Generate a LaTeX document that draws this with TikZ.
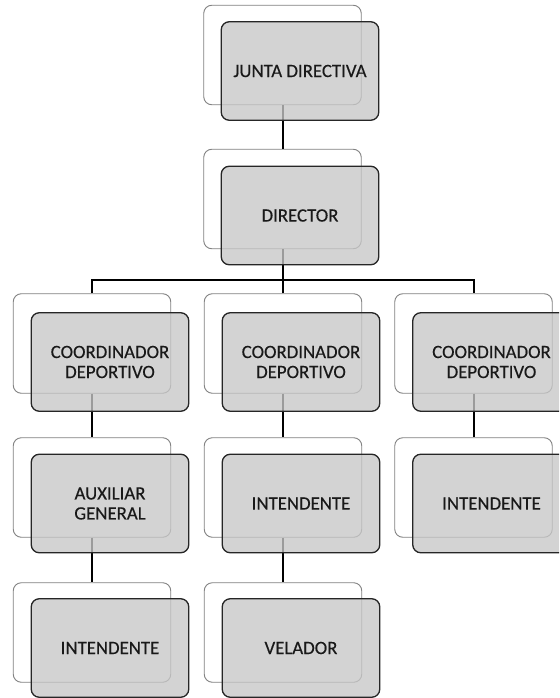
\documentclass[tikz,border=0pt]{standalone}
\usepackage{fontspec}
\setmainfont{Carlito}
\newfontfamily\lblfont[FakeBold=0.35]{Carlito}
\begin{document}
\begin{tikzpicture}[x=1pt,y=-1pt,
  backbox/.style={draw=black!50, line width=0.9pt, rounded corners=8pt, fill=white,
    minimum width=157.5pt, minimum height=99.5pt, inner sep=0pt},
  frontbox/.style={draw=black!85, line width=1.3pt, rounded corners=8pt, fill=black!22,
    fill opacity=0.78, text opacity=1,
    minimum width=157.5pt, minimum height=98.5pt, inner sep=0pt},
  lbl/.style={align=center, font=\lblfont\fontsize{18.8}{20}\selectfont, text=black!90},
  conn/.style={line width=2pt, black}]
\useasboundingbox (0,0) rectangle (559,698);
\clip (0,0) rectangle (559,698);
% back boxes
\node[backbox] (j-b) at (282.5,55) {};
\node[backbox] (d-b) at (282.5,199) {};
\node[backbox] (c1-b) at (92,343.5) {};
\node[backbox] (c2-b) at (283,343.5) {};
\node[backbox] (c3-b) at (473.5,343.5) {};
\node[backbox] (a1-b) at (92,487.5) {};
\node[backbox] (i2-b) at (283,487.5) {};
\node[backbox] (i3-b) at (473.5,487.5) {};
\node[backbox] (i1-b) at (92,632.5) {};
\node[backbox] (v2-b) at (283,632.5) {};
% connectors
\coordinate (bus) at (282.5,280);
\draw[conn] (j-b.south) -- (d-b.north);
\draw[conn] (d-b.south) -- (bus);
\draw[conn] (c1-b.north) |- (bus) -| (c3-b.north);
\draw[conn] (c2-b.north) -- (c2-b.north |- bus);
\draw[conn] (c1-b.south) -- (a1-b.north);
\draw[conn] (a1-b.south) -- (i1-b.north);
\draw[conn] (c2-b.south) -- (i2-b.north);
\draw[conn] (i2-b.south) -- (v2-b.north);
\draw[conn] (c3-b.south) -- (i3-b.north);
% front boxes
\node[frontbox] (j) at (300,71) {};
\node[frontbox] (d) at (300,215.5) {};
\node[frontbox] (c1) at (110,362) {};
\node[frontbox] (c2) at (301,362) {};
\node[frontbox] (c3) at (491.5,362) {};
\node[frontbox] (a1) at (110,503.5) {};
\node[frontbox] (i2) at (301,503.5) {};
\node[frontbox] (i3) at (491.5,503.5) {};
\node[frontbox] (i1) at (110,648) {};
\node[frontbox] (v2) at (301,648) {};
% labels
\node[lbl] at (j) {JUNTA DIRECTIVA};
\node[lbl] at (d) {DIRECTOR};
\node[lbl] at (c1) {COORDINADOR\\DEPORTIVO};
\node[lbl] at (c2) {COORDINADOR\\DEPORTIVO};
\node[lbl] at (c3) {COORDINADOR\\DEPORTIVO};
\node[lbl] at (a1) {AUXILIAR\\GENERAL};
\node[lbl] at (i2) {INTENDENTE};
\node[lbl] at (i3) {INTENDENTE};
\node[lbl] at (i1) {INTENDENTE};
\node[lbl] at (v2) {VELADOR};
\end{tikzpicture}
\end{document}
